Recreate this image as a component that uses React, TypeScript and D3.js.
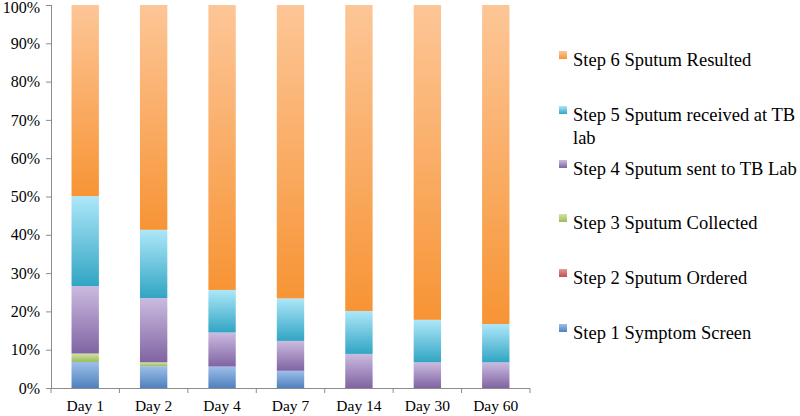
import React, { useEffect, useRef } from "react";
import * as d3 from "d3";

// data (percent of patients at each step)
const days = ["Day 1", "Day 2", "Day 4", "Day 7", "Day 14", "Day 30", "Day 60"];
const step1 = [6.8, 5.7, 5.6, 4.5, 0, 0, 0];
const step2 = [0, 0, 0, 0, 0, 0, 0];
const step3 = [2.2, 1.0, 0, 0, 0, 0, 0];
const step4 = [17.6, 16.8, 8.9, 7.8, 8.9, 6.7, 6.7];
const step5 = [23.5, 17.8, 11.1, 11.1, 11.2, 11.1, 10.0];
const step6 = [49.9, 58.7, 74.4, 76.6, 79.9, 82.2, 83.3];
const stepNames = [
  "Step 1 Symptom Screen",
  "Step 2 Sputum Ordered",
  "Step 3 Sputum Collected",
  "Step 4 Sputum sent to TB Lab",
  "Step 5 Sputum received at TB lab",
  "Step 6 Sputum Resulted",
];
const yTicks = [0, 10, 20, 30, 40, 50, 60, 70, 80, 90, 100];

// light (top) / dark (bottom) gradient stops, Excel 2011 style
const colors = [
  ["#9dbfe9", "#4f81bd"],
  ["#e59a98", "#c0504d"],
  ["#d2e3a8", "#9bbb59"],
  ["#cbbbe0", "#8064a2"],
  ["#aee7f9", "#31a5c3"],
  ["#fdc697", "#f79435"],
];

const App = () => {
  const ref = useRef(null);
  useEffect(() => {
    drawChart(ref.current);
  }, []);
  return <svg ref={ref} width={800} height={416} style={{ position: "absolute", left: 0, top: 0 }} />;
};

const drawChart = (node) => {
  if (!node) return;
  const svg = d3.select(node);
  svg.selectAll("*").remove();

  const font = "'Liberation Serif', 'Times New Roman', serif";
  const left = 51, right = 530, top = 5, bottom = 388;

  const series = [step1, step2, step3, step4, step5, step6];
  const table = days.map((d, i) => {
    const row = { day: d };
    series.forEach((s, k) => (row["s" + k] = s[i]));
    return row;
  });
  const keys = series.map((_, k) => "s" + k);
  const stacked = d3.stack().keys(keys)(table);

  const x = d3.scaleBand().domain(days).range([left, right]).paddingInner(0.6).paddingOuter(0.3);
  const xOuter = d3.scaleBand().domain(days).range([left, right]);
  const y = d3.scaleLinear().domain([0, 100]).range([bottom, top]);

  const defs = svg.append("defs");
  colors.forEach((c, k) => {
    const g = defs.append("linearGradient").attr("id", "grad" + k).attr("x1", 0).attr("y1", 0).attr("x2", 0).attr("y2", 1);
    g.append("stop").attr("offset", "0%").attr("stop-color", c[0]);
    g.append("stop").attr("offset", "100%").attr("stop-color", c[1]);
  });

  // bars
  stacked.forEach((layer, k) => {
    svg.append("g")
      .selectAll("rect")
      .data(layer.filter((d) => d[1] - d[0] > 0))
      .join("rect")
      .attr("x", (d) => x(d.data.day))
      .attr("width", x.bandwidth())
      .attr("y", (d) => y(d[1]))
      .attr("height", (d) => y(d[0]) - y(d[1]))
      .attr("fill", `url(#grad${k})`);
  });

  // y axis
  const axisColor = "#8c8c8c";
  svg.append("line").attr("x1", left + 0.5).attr("x2", left + 0.5).attr("y1", top).attr("y2", bottom)
    .attr("stroke", axisColor);
  yTicks.forEach((t) => {
    svg.append("line").attr("x1", left - 5).attr("x2", left).attr("y1", y(t) + 0.5).attr("y2", y(t) + 0.5)
      .attr("stroke", axisColor);
    // keep the top label inside the picture
    svg.append("text").attr("x", 40).attr("y", Math.max(y(t), 7)).attr("dy", "0.35em").attr("text-anchor", "end")
      .style("font-family", font).style("font-size", "16px").attr("fill", "#000").text(t + "%");
  });

  // x axis
  svg.append("line").attr("x1", left).attr("x2", right).attr("y1", bottom + 0.5).attr("y2", bottom + 0.5)
    .attr("stroke", axisColor);
  days.forEach((d, i) => {
    const bx = xOuter(d) + xOuter.bandwidth();
    svg.append("line").attr("x1", bx).attr("x2", bx).attr("y1", bottom).attr("y2", bottom + 5)
      .attr("stroke", axisColor);
    if (i === 0) {
      svg.append("line").attr("x1", left).attr("x2", left).attr("y1", bottom).attr("y2", bottom + 5)
        .attr("stroke", axisColor);
    }
    svg.append("text").attr("x", x(d) + x.bandwidth() / 2).attr("y", 411).attr("text-anchor", "middle")
      .style("font-family", font).style("font-size", "15.5px").text(d);
  });

  // legend, top to bottom = step 6 .. step 1
  const legendY = [60, 115, 169, 223, 278, 333];
  const order = [5, 4, 3, 2, 1, 0];
  order.forEach((k, j) => {
    const ly = legendY[j];
    svg.append("rect").attr("x", 559).attr("y", ly - 9).attr("width", 8).attr("height", 8)
      .attr("fill", `url(#grad${k})`);
    const t = svg.append("text").attr("x", 573).attr("y", ly).attr("dy", "0.35em")
      .style("font-family", font).style("font-size", "18.5px");
    if (k === 4) {
      t.append("tspan").attr("x", 573).text("Step 5 Sputum received at TB");
      t.append("tspan").attr("x", 573).attr("dy", "1.2em").text("lab");
    } else {
      t.text(stepNames[k]);
    }
  });
};

export default App;
